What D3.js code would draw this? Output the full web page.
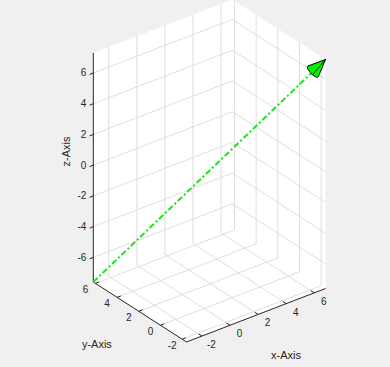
<!DOCTYPE html>
<html>
<head>
<meta charset="utf-8">
<script src="https://cdn.jsdelivr.net/npm/d3@7"></script>
<style>
  html, body { margin: 0; padding: 0; background: #f0f0f0; }
  svg { display: block; font-family: "Liberation Sans", Arial, sans-serif; }
</style>
</head>
<body>
<script>
// ---- data ----
var xTicks = [-2, 0, 2, 4, 6]
var yTicks = [-2, 0, 2, 4, 6]
var zTicks = [-6, -4, -2, 0, 2, 4, 6]
var arrowStart = [-3.1, 6.2, -7.6]
var arrowEnd = [6.8, -2.4, 7.3]
var axisNames = ['x-Axis', 'y-Axis', 'z-Axis']

var width = 390
var height = 367

// axis tight: limits come from the arrow itself
var xLim = d3.extent([arrowStart[0], arrowEnd[0]])
var yLim = d3.extent([arrowStart[1], arrowEnd[1]])
var zLim = d3.extent([arrowStart[2], arrowEnd[2]])

var fx = d3.scaleLinear().domain(xLim).range([0, 1])
var fy = d3.scaleLinear().domain(yLim).range([0, 1])
var fz = d3.scaleLinear().domain(zLim).range([0, 1])

// projected box: corner (xmin,ymin,zmin) and the three edge vectors
var O = [186.5, 342]
var Vx = [139, -53.5]
var Vy = [-93.2, -60]
var Vz = [0, -229]

function project(x, y, z) {
  var a = fx(x), b = fy(y), c = fz(z)
  return [O[0] + a * Vx[0] + b * Vy[0] + c * Vz[0],
          O[1] + a * Vx[1] + b * Vy[1] + c * Vz[1]]
}

var svg = d3.select('body').append('svg').attr('width', width).attr('height', height)

var x0 = xLim[0], x1 = xLim[1], y0 = yLim[0], y1 = yLim[1], z0 = zLim[0], z1 = zLim[1]

// white back panes
var pane = [project(x0, y1, z1), project(x1, y1, z1), project(x1, y0, z1),
            project(x1, y0, z0), project(x0, y0, z0), project(x0, y1, z0)]
svg.append('polygon').attr('points', pane.map(p => p.join(',')).join(' ')).attr('fill', '#ffffff')

// grid lines on the three back planes
var grid = []
xTicks.forEach(v => {
  grid.push([project(v, y0, z0), project(v, y1, z0)])   // floor
  grid.push([project(v, y1, z0), project(v, y1, z1)])   // back wall
})
yTicks.forEach(v => {
  grid.push([project(x0, v, z0), project(x1, v, z0)])   // floor
  grid.push([project(x1, v, z0), project(x1, v, z1)])   // right wall
})
zTicks.forEach(v => {
  grid.push([project(x0, y1, v), project(x1, y1, v)])   // back wall
  grid.push([project(x1, y1, v), project(x1, y0, v)])   // right wall
})
svg.append('g').selectAll('line').data(grid).enter().append('line')
  .attr('x1', d => d[0][0]).attr('y1', d => d[0][1])
  .attr('x2', d => d[1][0]).attr('y2', d => d[1][1])
  .attr('stroke', '#d6d6d6').attr('stroke-width', 0.8)

// axis lines
var axisLines = [
  [project(x0, y0, z0), project(x1, y0, z0)],
  [project(x0, y1, z0), project(x0, y0, z0)],
  [project(x0, y1, z0), project(x0, y1, z1)]
]
svg.append('g').selectAll('line').data(axisLines).enter().append('line')
  .attr('x1', d => d[0][0]).attr('y1', d => d[0][1])
  .attr('x2', d => d[1][0]).attr('y2', d => d[1][1])
  .attr('stroke', '#262626').attr('stroke-width', 1)

function unit(v) { var l = Math.hypot(v[0], v[1]); return [v[0] / l, v[1] / l] }
var ux = unit(Vx), uy = unit(Vy)
var tickLen = 4

function drawTicks(ticks, pos, dir, lab, anchor) {
  var g = svg.append('g')
  ticks.forEach(v => {
    var p = pos(v)
    g.append('line').attr('x1', p[0]).attr('y1', p[1])
      .attr('x2', p[0] + dir[0] * tickLen).attr('y2', p[1] + dir[1] * tickLen)
      .attr('stroke', '#262626').attr('stroke-width', 1)
    g.append('text').attr('x', p[0] + lab[0]).attr('y', p[1] + lab[1])
      .attr('text-anchor', anchor).attr('dominant-baseline', 'central')
      .attr('font-size', 10).attr('fill', '#262626').text(v)
  })
}
drawTicks(xTicks, v => project(v, y0, z0), uy, [9.5, 8.5], 'middle')
drawTicks(yTicks, v => project(x0, v, z0), ux, [-10, 6.5], 'middle')
drawTicks(zTicks, v => project(x0, y1, v), [-ux[0], -ux[1]], [-7, 0], 'end')

// axis titles
var xl = project((x0 + x1) / 2, y0, z0)
svg.append('text').attr('x', xl[0] + 30).attr('y', xl[1] + 40)
  .attr('text-anchor', 'middle').attr('dominant-baseline', 'central')
  .attr('font-size', 11).attr('fill', '#262626').text(axisNames[0])
var yl = project(x0, (y0 + y1) / 2, z0)
svg.append('text').attr('x', yl[0] - 43).attr('y', yl[1] + 32)
  .attr('text-anchor', 'middle').attr('dominant-baseline', 'central')
  .attr('font-size', 11).attr('fill', '#262626').text(axisNames[1])
var zl = project(x0, y1, (z0 + z1) / 2)
svg.append('text').attr('transform', 'translate(' + (zl[0] - 27) + ',' + (zl[1] - 16) + ') rotate(-90)')
  .attr('text-anchor', 'middle').attr('dominant-baseline', 'central')
  .attr('font-size', 11).attr('fill', '#262626').text(axisNames[2])

// the vector
var P0 = project(arrowStart[0], arrowStart[1], arrowStart[2])
var P1 = project(arrowEnd[0], arrowEnd[1], arrowEnd[2])
svg.append('line').attr('x1', P0[0]).attr('y1', P0[1]).attr('x2', P1[0]).attr('y2', P1[1])
  .attr('stroke', '#19e619').attr('stroke-width', 2)
  .attr('stroke-dasharray', '6,2.5,2,2.5')

// cone head
var dir = unit([P1[0] - P0[0], P1[1] - P0[1]])
var perp = [-dir[1], dir[0]]
var headLen = 17.5, rMaj = 7.5, rMin = 2.5
var C = [P1[0] - dir[0] * headLen, P1[1] - dir[1] * headLen]
var ring = d3.range(0, 2 * Math.PI, Math.PI / 18).map(t =>
  [C[0] + perp[0] * rMaj * Math.cos(t) + dir[0] * rMin * Math.sin(t),
   C[1] + perp[1] * rMaj * Math.cos(t) + dir[1] * rMin * Math.sin(t)])
var hull = d3.polygonHull(ring.concat([P1]))
svg.append('path').attr('d', 'M' + hull.join('L') + 'Z')
  .attr('fill', '#00f000').attr('stroke', '#000').attr('stroke-width', 1).attr('stroke-linejoin', 'round')
var inner = [C[0] + perp[0] * 2 - dir[0] * rMin, C[1] + perp[1] * 2 - dir[1] * rMin]
svg.append('line').attr('x1', P1[0]).attr('y1', P1[1]).attr('x2', inner[0]).attr('y2', inner[1])
  .attr('stroke', '#000').attr('stroke-width', 0.8)
</script>
</body>
</html>
